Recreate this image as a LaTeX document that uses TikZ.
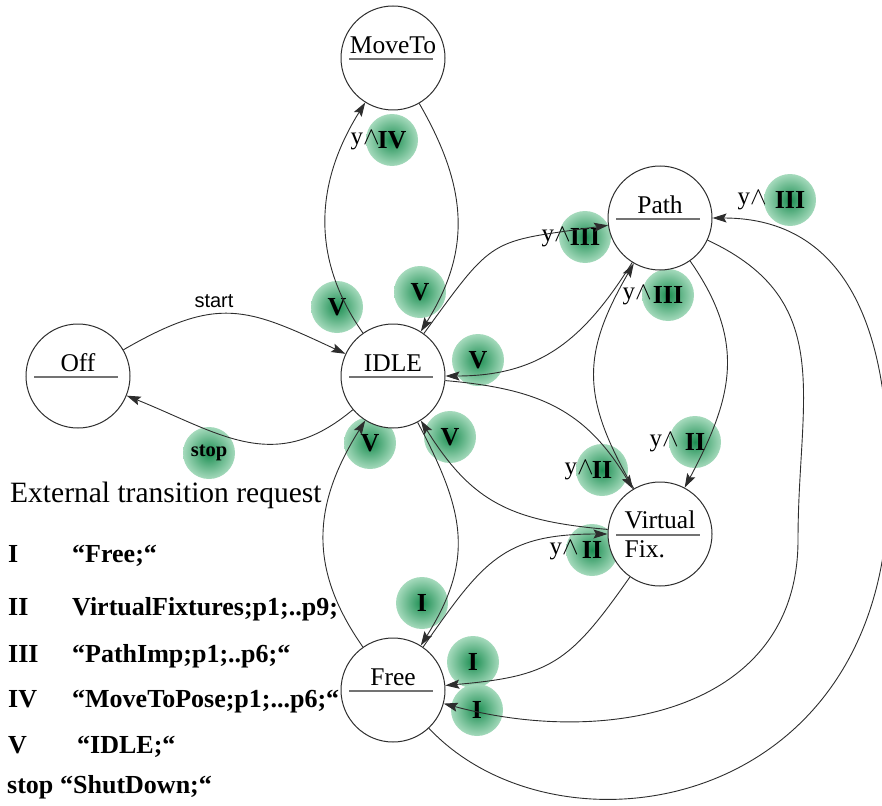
\documentclass[tikz,border=0pt]{standalone}
\usepackage{fontspec}
\setmainfont{Liberation Serif}
\newfontfamily\sansfam{Liberation Sans}
\usepackage{tikz}
\usetikzlibrary{automata, positioning, arrows.meta}

\definecolor{ballin}{RGB}{28,142,82}
\definecolor{ballout}{RGB}{165,218,188}
\definecolor{ink}{RGB}{45,45,45}

\newcommand{\stfont}{\fontsize{25.5}{29}\selectfont}
\newcommand{\reqfont}{\fontsize{26}{30}\selectfont\bfseries}
\newcommand{\stopfont}{\fontsize{20.5}{24}\selectfont\bfseries}
\newcommand{\ylfont}{\fontsize{25}{29}\selectfont}
\newcommand{\legfont}{\fontsize{26}{30}\selectfont\bfseries}
\newcommand{\titfont}{\fontsize{29.5}{34}\selectfont}
\newcommand{\lblfont}{\sansfam\fontsize{20}{24}\selectfont}

\tikzset{
  every state/.style={minimum size=104pt, inner sep=0pt, line width=1pt, draw=ink, fill=white,
    path picture={\draw[black!55, line width=1.3pt]
      ([shift={(-44pt,-1pt)}]path picture bounding box.center) --
      ([shift={(40pt,-1pt)}]path picture bounding box.center);}},
  sname/.style={font=\stfont, inner sep=0pt, yshift=13pt},
  vname/.style={font=\stfont, inner sep=0pt, align=left},
  req/.style={circle, minimum size=52pt, inner sep=0pt, inner color=ballin, outer color=ballout, font=\reqfont},
  cond/.style={label={[font=\ylfont, inner sep=0pt, label distance=#1]left:y$\wedge$}},
  trans/.style={draw=ink, line width=0.9pt, -{Stealth[length=14pt, width=9pt, inset=2.5pt]}},
  legkey/.style={anchor=base west, inner sep=0pt, font=\legfont},
}

\begin{document}
\begin{tikzpicture}[x=1pt, y=1pt, on grid]
	\useasboundingbox (0,0) rectangle (882,-805);

	% request labels
	\node[req, cond=-14pt] (rIV) at (392,-140) {IV};
	\node[req, cond=-12pt] (rIIIa) at (585,-237) {III};
	\node[req, cond=-10pt] (rIIIb) at (668,-295) {III};
	\node[req, cond=-3pt] (rIIIc) at (790,-200) {III};
	\node[req, cond=-18pt] (rIIa) at (602,-470) {II};
	\node[req, cond=-10pt] (rIIb) at (695,-442) {II};
	\node[req, cond=-13pt] (rIIc) at (592,-550) {II};
	\node[req] (rVa) at (337,-307) {V};
	\node[req] (rVb) at (420,-292) {V};
	\node[req] (rVc) at (478,-360) {V};
	\node[req] (rVd) at (370,-443) {V};
	\node[req] (rVe) at (450,-437) {V};
	\node[req] (rIa) at (422,-603) {I};
	\node[req] (rIb) at (473,-662) {I};
	\node[req] (rIc) at (477,-710) {I};
	\node[req, font=\stopfont] (rstop) at (209,-453) {stop};

	% states
	\node[state, label={[sname]center:IDLE}] (idle) at (393,-376) {};
	\node[state, label={[sname]center:MoveTo}, above=318pt of idle] (moveto) {};
	\node[state, label={[sname]center:Off}, left=315pt of idle] (off) {};
	\node[state, label={[sname]center:Free}, below=314pt of idle] (free) {};
	\node[state, label={[sname]center:Path}, above right=158pt and 267pt of idle] (path) {};
	\node[state, label={[vname]center:Virtual\\Fix.}, below right=158pt and 267pt of idle] (virt) {};

	\coordinate (farright) at (888,-470);
	\coordinate (farinner) at (798,-540);

	% transitions
	\draw[trans] (off) to[out=30, in=155, looseness=1.26] node[pos=0.4, above=3pt, font=\lblfont] (lstart) {start} (idle);
	\draw[trans] (idle) to[out=220, in=-22, looseness=1.15] (off);
	\draw[trans] (idle) to[out=125, in=238, looseness=1.03] (moveto);
	\draw[trans] (moveto) to[out=-60, in=58, looseness=1.08] (idle);
	\draw[trans] (idle) to[out=54, in=188, looseness=1.45] (path);
	\draw[trans] (path) to[out=238, in=0, looseness=1.09] (idle);
	\draw[trans] (idle) to[out=-5, in=121, looseness=1.1] (virt);
	\draw[trans] (virt) to[out=175, in=-58, looseness=1.15] (idle);
	\draw[trans] (path) to[out=-55, in=62, looseness=1.13] (virt);
	\draw[trans] (virt) to[out=120, in=240, looseness=1.2] (path);
	\draw[trans] (virt) to[out=235, in=5, looseness=1.26] (free);
	\draw[trans] (free) to[out=55, in=180, looseness=1.24] (virt);
	\draw[trans] (idle) to[out=-62, in=58, looseness=1.16] (free);
	\draw[trans] (free) to[out=125, in=238, looseness=1.1] (idle);
	\draw[trans] (free) .. controls (560,-868) and (900,-812) .. (farright) to[out=90, in=0, looseness=1.13] (path);
	\draw[trans] (path) to[out=-25, in=90, looseness=1.17] (farinner) to[out=-90, in=-15, looseness=1.12] (free);

	% legend
	\node[anchor=base west, inner sep=0pt, font=\titfont] (title) at (10,-502) {External transition request};
	\node[legkey] (kI) at (8,-562) {I};
	\node[legkey] (tI) at (72,-562) {“Free;“};
	\node[legkey] (kII) at (8,-615) {II};
	\node[legkey] (tII) at (72,-615) {VirtualFixtures;p1;..p9;};
	\node[legkey] (kIII) at (8,-662) {III};
	\node[legkey] (tIII) at (72,-662) {“PathImp;p1;..p6;“};
	\node[legkey] (kIV) at (8,-707) {IV};
	\node[legkey] (tIV) at (72,-707) {“MoveToPose;p1;...p6;“};
	\node[legkey] (kV) at (8,-753) {V};
	\node[legkey] (tV) at (77,-753) {“IDLE;“};
	\node[legkey] (kstop) at (7,-793) {stop};
	\node[legkey] (tstop) at (60,-793) {“ShutDown;“};
\end{tikzpicture}
\end{document}
